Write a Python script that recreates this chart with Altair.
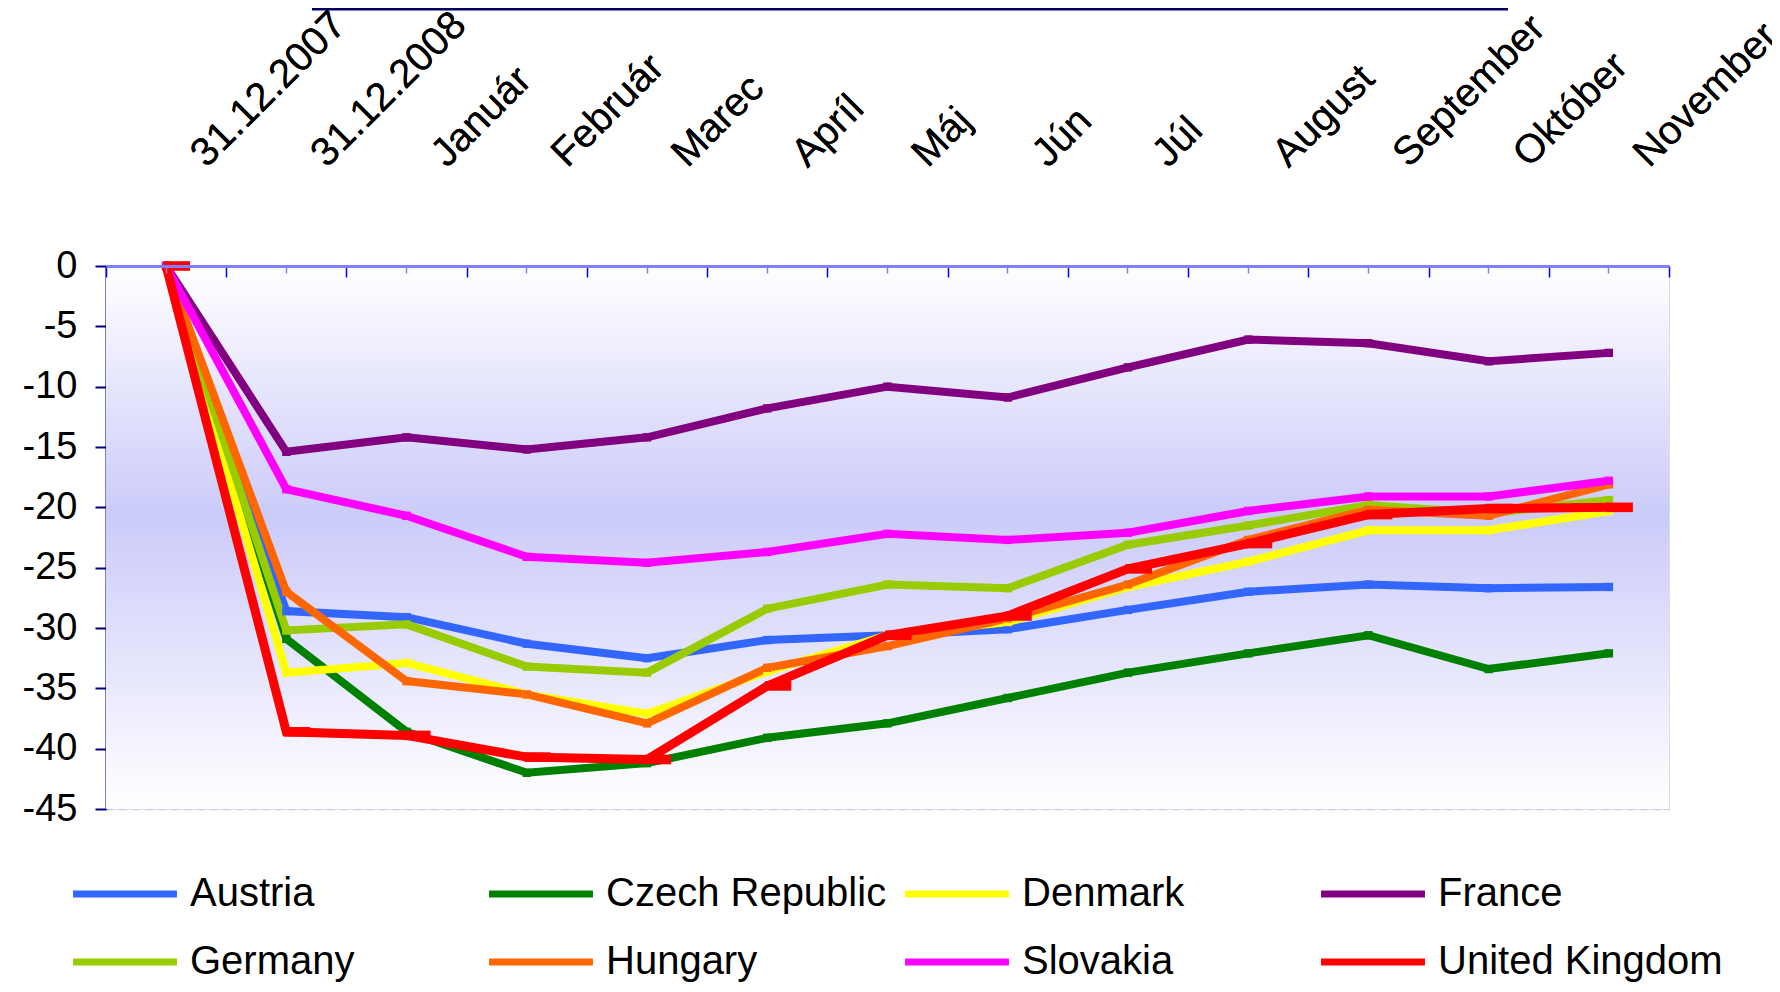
import altair as alt
import pandas as pd

categories = ["31.12.2007", "31.12.2008", "Január", "Február", "Marec", "Apríl",
              "Máj", "Jún", "Júl", "August", "September", "Október", "November"]

series = ["Austria", "Czech Republic", "Denmark", "France",
          "Germany", "Hungary", "Slovakia", "United Kingdom"]
colors = ["#3366ff", "#008000", "#ffff00", "#800080",
          "#99cc00", "#ff6600", "#ff00ff", "#ff0000"]

austria = [0, -28.6, -29.1, -31.3, -32.5, -31.0, -30.6, -30.1, -28.5, -27.0, -26.4, -26.7, -26.6]
czech = [0, -30.9, -38.6, -42.0, -41.2, -39.1, -37.9, -35.8, -33.7, -32.1, -30.6, -33.4, -32.1]
denmark = [0, -33.7, -32.9, -35.5, -37.1, -33.6, -30.6, -29.5, -26.6, -24.5, -21.9, -21.9, -20.3]
france = [0, -15.4, -14.2, -15.2, -14.2, -11.8, -10.0, -10.9, -8.4, -6.1, -6.4, -7.9, -7.2]
germany = [0, -30.2, -29.7, -33.2, -33.7, -28.4, -26.4, -26.7, -23.1, -21.5, -19.8, -20.5, -19.4]
hungary = [0, -27.0, -34.4, -35.5, -37.9, -33.3, -31.5, -29.2, -26.4, -22.7, -20.2, -20.7, -18.1]
slovakia = [0, -18.5, -20.7, -24.1, -24.6, -23.7, -22.2, -22.7, -22.1, -20.3, -19.1, -19.1, -17.8]
uk = [0, -38.6, -38.9, -40.7, -40.9, -34.8, -30.6, -29.0, -25.1, -23.0, -20.6, -20.1, -20.0]

y_ticks = [0, -5, -10, -15, -20, -25, -30, -35, -40, -45]

values = [austria, czech, denmark, france, germany, hungary, slovakia, uk]
rows = []
for s, vals in zip(series, values):
    for c, v in zip(categories, vals):
        rows.append({"month": c, "series": s, "value": v})
df = pd.DataFrame(rows)

W, H = 1563, 543
FONT = "Liberation Sans"

xscale = alt.Scale(domain=categories, paddingInner=0, paddingOuter=0)
yscale = alt.Scale(domain=[-45, 0], nice=False)
color_scale = alt.Scale(domain=series, range=colors)

y_axis = alt.Axis(values=y_ticks, title=None, labelFont=FONT, labelFontSize=38,
                  labelColor="black", labelPadding=18, tickSize=11, tickWidth=2,
                  tickColor="#000080", domainColor="#000080", domainWidth=2,
                  grid=True, gridColor="#c8c8f4", gridDash=[7, 6], gridWidth=1.5,
                  labelExpr="replace(datum.label, '\u2212', '-')")

axis_labels = alt.Axis(orient="top", title=None, labelAngle=-45, labelAlign="left",
                       labelBaseline="bottom", labelFont=FONT, labelFontSize=40,
                       labelColor="black", labelPadding=92, labelOffset=46,
                       labelOverlap=False, labelLimit=1000, ticks=False,
                       domainColor="#7f7fff", domainWidth=3, grid=False, zindex=2)
axis_ticks_edge = alt.Axis(orient="bottom", offset=-H, title=None, labels=False,
                           domain=False, tickBand="extent", tickSize=11,
                           tickColor="#0000ff", tickWidth=1.5, grid=False, zindex=2)
axis_ticks_mid = alt.Axis(orient="bottom", offset=-H, title=None, labels=False,
                          domain=False, tickSize=7, tickColor="#7f7fff",
                          tickWidth=1.5, grid=False, zindex=2)

bg = alt.Chart(pd.DataFrame({"a": [0]})).mark_rect(
    color=alt.Gradient(gradient="linear", x1=0, x2=0, y1=0, y2=1,
                       stops=[alt.GradientStop(offset=0, color="#ffffff"),
                              alt.GradientStop(offset=0.46, color="#cbcbfa"),
                              alt.GradientStop(offset=1, color="#ffffff")])
).encode(x=alt.value(0), x2=alt.value(W), y=alt.value(0), y2=alt.value(H))

underline = alt.Chart(pd.DataFrame({"a": [0]})).mark_rule(
    color="#000066", strokeWidth=3
).encode(x=alt.value(206), x2=alt.value(1402), y=alt.value(-257))

base = alt.Chart(df)

lines = base.transform_filter(alt.datum.series != "United Kingdom").mark_line(
    strokeWidth=8
).encode(
    x=alt.X("month:N", sort=categories, scale=xscale, axis=axis_labels),
    y=alt.Y("value:Q", scale=yscale, axis=y_axis),
    color=alt.Color("series:N", scale=color_scale, sort=series,
                    legend=alt.Legend(title=None, orient="none", legendX=-2,
                                      legendY=607, columns=4, direction="horizontal",
                                      symbolType="M-3,0L3,0", symbolStrokeWidth=7,
                                      symbolSize=1200, labelFont=FONT,
                                      labelFontSize=40, labelColor="black",
                                      labelOffset=44, gridAlign="all",
                                      columnPadding=0, rowPadding=27,
                                      labelLimit=1000)),
    detail="series:N",
)

uk_line = base.transform_filter(alt.datum.series == "United Kingdom").mark_line(
    strokeWidth=9
).encode(
    x=alt.X("month:N", sort=categories, scale=xscale, axis=axis_labels),
    y=alt.Y("value:Q", scale=yscale, axis=y_axis),
    color=alt.Color("series:N", scale=color_scale, sort=series, legend=None),
)

pts = base.transform_filter(alt.datum.series != "United Kingdom").mark_point(
    shape="square", filled=True, size=70, opacity=1
).encode(
    x=alt.X("month:N", sort=categories, scale=xscale, axis=axis_ticks_edge),
    y=alt.Y("value:Q", scale=yscale, axis=y_axis),
    color=alt.Color("series:N", scale=color_scale, sort=series, legend=None),
)

uk_pts = base.transform_filter(alt.datum.series == "United Kingdom").mark_point(
    shape="M-0.2,-0.4L2,-0.4L2,0.4L-0.2,0.4Z", filled=True, size=576, opacity=1
).encode(
    x=alt.X("month:N", sort=categories, scale=xscale, axis=axis_ticks_mid),
    y=alt.Y("value:Q", scale=yscale, axis=y_axis),
    color=alt.Color("series:N", scale=color_scale, sort=series, legend=None),
)

chart = alt.layer(bg, underline, lines, pts, uk_line, uk_pts).resolve_axis(
    x="independent"
).properties(
    width=W, height=H,
    autosize=alt.AutoSizeParams(type="none"),
    padding={"left": 98, "top": 258, "right": 103, "bottom": 175},
).configure_view(stroke=None).configure(background="white")

chart.save("out.html", embed_options={"renderer": "svg", "actions": False})
